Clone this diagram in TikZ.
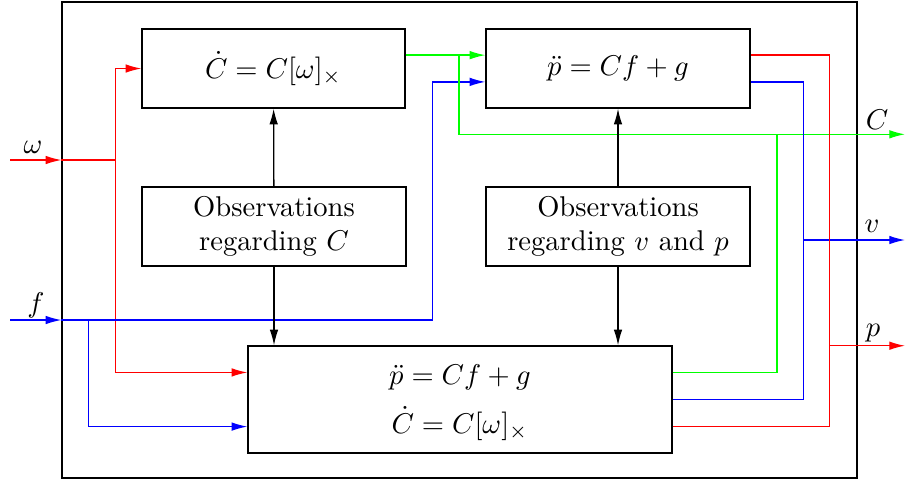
\documentclass[tikz,border=0pt]{standalone}
\usetikzlibrary{arrows.meta,calc}
\begin{document}
\begin{tikzpicture}[x=0.35pt,y=-0.35pt,line width=0.45pt,
  blk/.style={draw,rectangle,inner sep=0pt,align=center},
  arr/.style={-{Latex[length=5.5pt,width=3pt]}},
  lbl/.style={inner sep=0pt}]
\useasboundingbox (0,0) rectangle (905,480);
% frame
\node[draw,rectangle,inner sep=0pt,minimum width=795*0.35pt,minimum height=476*0.35pt] (frame) at (459.5,240) {};
% blocks
\node[blk,minimum width=263*0.35pt,minimum height=79*0.35pt] (A) at (273.5,68.5) {$\dot C = C[\omega]_\times$};
\node[blk,minimum width=264*0.35pt,minimum height=79*0.35pt] (B) at (618,68.5) {$\ddot p = Cf + g$};
\node[blk,minimum width=264*0.35pt,minimum height=79*0.35pt] (OC) at (274,226.5) {Observations\\regarding $C$};
\node[blk,minimum width=264*0.35pt,minimum height=79*0.35pt] (OV) at (618,226.5) {Observations\\regarding $v$ and $p$};
\node[blk,minimum width=424*0.35pt,minimum height=107*0.35pt] (D) at (460,399.5) {\rule{0pt}{9pt}$\ddot p = Cf + g$\\[5pt]$\dot C = C[\omega]_\times$};
% anchor helpers
\coordinate (Aout) at ($(A.north east)!1/3!(A.south east)$);
\coordinate (Bg) at ($(B.north west)!1/3!(B.south west)$);
\coordinate (Bb) at ($(B.north west)!2/3!(B.south west)$);
\coordinate (Br) at ($(B.north east)!1/3!(B.south east)$);
\coordinate (Bbo) at ($(B.north east)!2/3!(B.south east)$);
\coordinate (Dr) at ($(D.north west)!1/4!(D.south west)$);
\coordinate (Db) at ($(D.north west)!3/4!(D.south west)$);
\coordinate (Dgo) at ($(D.north east)!1/4!(D.south east)$);
\coordinate (Dbo) at ($(D.north east)!2/4!(D.south east)$);
\coordinate (Dro) at ($(D.north east)!3/4!(D.south east)$);
% inputs
\coordinate (wIn) at (10,160);
\coordinate (fIn) at (10,320);
\coordinate (wJ) at (115.3,160);
\coordinate (fJ) at (88.7,320);
\coordinate (fK) at (432.7,320);
\coordinate (gJ) at (459,0);
\coordinate (Cout) at (905,134.3);
\coordinate (vout) at (905,240);
\coordinate (pout) at (905,345.7);
\coordinate (gR) at (777,0);
\coordinate (bR) at (803.7,0);
\coordinate (rR) at (829.7,0);
% omega
\draw[red,arr] (wIn) -- (wIn -| frame.west);
\draw[red] (wIn -| frame.west) -- (wJ);
\draw[red,arr] (wJ) |- (A.west);
\draw[red,arr] (wJ) |- (Dr);
% f
\draw[blue,arr] (fIn) -- (fIn -| frame.west);
\draw[blue] (fIn -| frame.west) -- (fK);
\draw[blue,arr] (fK) |- (Bb);
\draw[blue,arr] (fJ) |- (Db);
% green
\draw[green,arr] (Aout) -- (Bg);
\draw[green,arr] (Aout -| gJ) |- (Cout);
\draw[green] (Dgo) -| (gR |- Cout);
% blue out
\draw[blue] (Bbo) -| (bR |- Dbo) -- (Dbo);
\draw[blue,arr] (bR |- vout) -- (vout);
% red out
\draw[red] (Br) -| (rR |- Dro) -- (Dro);
\draw[red,arr] (rR |- pout) -- (pout);
% black
\draw[arr] (OC) -- (A);
\draw[arr] (OC) -- (OC |- D.north);
\draw[arr] (OV) -- (B);
\draw[arr] (OV) -- (OV |- D.north);
% labels
\node[lbl] (lw) at (33,147) {$\omega$};
\node[lbl] (lf) at (36,305) {$f$};
\node[lbl] (lC) at (877,120) {$C$};
\node[lbl] (lv) at (872,226) {$v$};
\node[lbl] (lp) at (873,333) {$p$};
\end{tikzpicture}
\end{document}
